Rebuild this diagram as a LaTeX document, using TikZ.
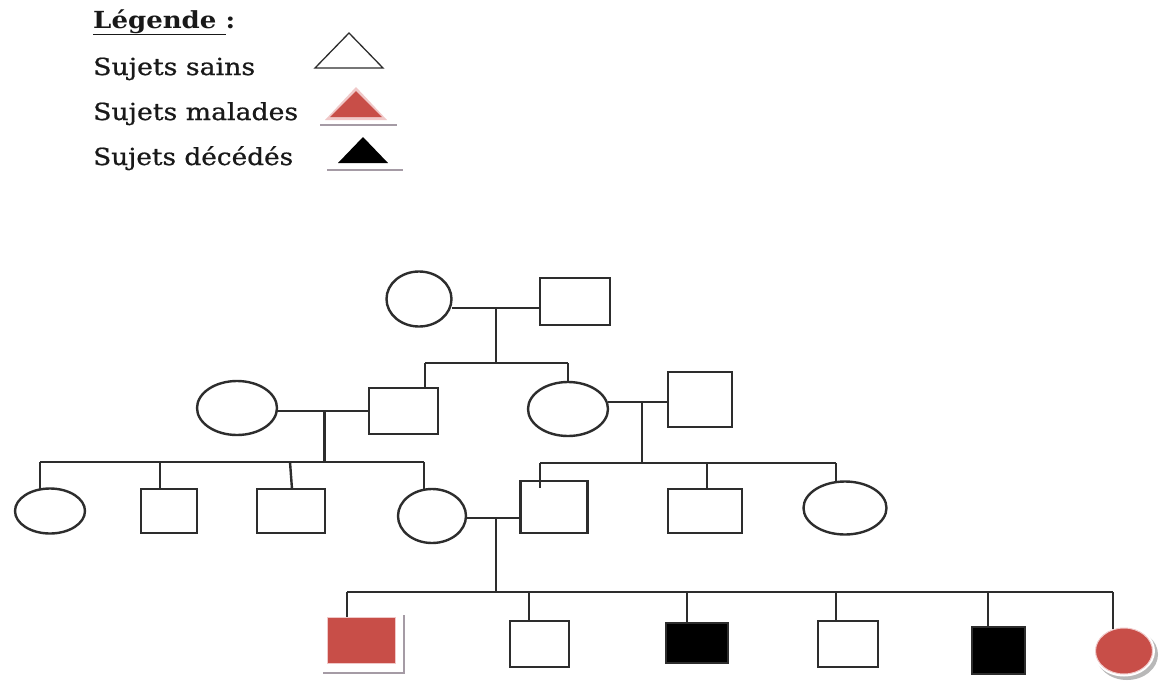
\documentclass[tikz,border=0pt]{standalone}
\usepackage{fontspec}
\usepackage{graphicx}
\setmainfont{DejaVu Serif}
\newfontfamily\legfont{DejaVu Serif}[FakeBold=0.7]
\usetikzlibrary{shapes.geometric}
\definecolor{ln}{RGB}{45,45,45}
\definecolor{sick}{RGB}{200,78,72}
\definecolor{shd}{RGB}{165,155,165}
\definecolor{halo}{RGB}{240,200,200}
\newcommand\wtxt[2]{\resizebox{#1pt}{\height}{#2}}
\begin{document}
\begin{tikzpicture}[x=1pt,y=-1pt,
  lw/.style={line width=2.4pt, draw=ln},
  link/.style={line width=2.4pt, draw=ln},
  fem/.style 2 args={ellipse, lw, inner sep=0pt, outer sep=0pt, minimum width=#1pt, minimum height=#2pt},
  mal/.style 2 args={rectangle, lw, inner sep=0pt, outer sep=0pt, minimum width=#1pt, minimum height=#2pt},
  leg/.style={anchor=base west, inner sep=0pt, text=black!90, font=\fontsize{23.5}{26}\selectfont}]
\useasboundingbox (0,0) rectangle (1163,686);
\fill[white] (0,0) rectangle (1163,686);

% legend
\node[leg] (lg) at (93,28) {\wtxt{142}{\textbf{\underline{Légende\ }:}}};
\node[leg] (l1) at (93,75) {\wtxt{162}{\legfont Sujets sains}};
\node[leg] (l2) at (93,120) {\wtxt{205}{\legfont Sujets malades}};
\node[leg] (l3) at (93,165) {\wtxt{200}{\legfont Sujets décédés}};
\draw[ln, line width=1.3pt, fill=white] (315,68) -- (349,33) -- (383,68) -- cycle;
\fill[halo] (325,120) -- (356,87) -- (387,120) -- cycle;
\fill[sick] (330,117) -- (356,91) -- (382,117) -- cycle;
\draw[shd, line width=1.8pt] (320,125) -- (397,125);
\fill[black] (338,163) -- (363,137) -- (388,163) -- cycle;
\draw[shd, line width=1.8pt] (327,170) -- (403,170);

% generation I
\node[fem={65}{55}] (c1) at (419,299) {};
\node[mal={70}{47}] (s1) at (575,301.5) {};
% generation II
\node[fem={80}{54}] (c2) at (237,408) {};
\node[mal={69}{46}] (s2) at (403.5,411) {};
\node[fem={80}{54}] (c3) at (568,409) {};
\node[mal={64}{55}] (s3) at (700,399.5) {};
% generation III
\node[fem={70}{45}] (c4) at (50,511) {};
\node[mal={56}{44}] (s4) at (169,511) {};
\node[mal={68}{44}] (s5) at (291,511) {};
\node[fem={68}{54}] (c5) at (432,516) {};
\node[mal={67}{52}] (s6) at (554,507) {};
\node[mal={74}{44}] (s7) at (705,511) {};
\node[fem={83}{53}] (c6) at (845,508) {};
% generation IV
\draw[shd, line width=1.8pt] (323,673) -- (404,673) -- (404,615);
\node[mal={68}{46}, draw=halo, line width=1pt, fill=sick] (s8) at (361,640) {};
\node[mal={59}{46}] (s9) at (539.5,644) {};
\node[mal={62}{40}, fill=black] (s10) at (697,643) {};
\node[mal={60}{46}] (s11) at (848,644) {};
\node[mal={53}{47}, fill=black] (s12) at (998.5,650.5) {};
\fill[black!28] (1127,654.5) ellipse (31 and 25.5);
\fill[white] (1124,651) ellipse (31 and 25.5);
\node[fem={57}{46}, draw=halo, line width=1pt, fill=sick] (c7) at (1124,651) {};

% junction coordinates
\coordinate (m1) at (496,308);
\coordinate (k1) at (496,363);
\coordinate (k1l) at (425,363);
\coordinate (k1r) at (568,363);
\coordinate (m2) at (324.5,411);
\coordinate (k2) at (324.5,462);
\coordinate (k2a) at (40,462);
\coordinate (k2b) at (160,462);
\coordinate (k2c) at (290,462);
\coordinate (k2d) at (424,462);
\coordinate (m3) at (642,402);
\coordinate (k3) at (642,463);
\coordinate (k3a) at (540,463);
\coordinate (k3a2) at (540,488);
\coordinate (k3b) at (707,463);
\coordinate (k3c) at (836,463);
\coordinate (m4) at (496,518);
\coordinate (k4) at (496,592);
\coordinate (k4a) at (347,592);
\coordinate (k4b) at (529,592);
\coordinate (k4c) at (687,592);
\coordinate (k4d) at (836,592);
\coordinate (k4e) at (988,592);
\coordinate (k4f) at (1113,592);

% generation I links
\draw[link] (c1.east |- m1) -- (s1.west |- m1);
\draw[link] (m1) -- (k1);
\draw[link] (k1l) -- (k1r);
\draw[link] (k1l) -- (k1l |- s2.north);
\draw[link] (k1r) -- (c3.north);
% generation II links
\draw[link] (c2.east |- m2) -- (s2.west |- m2);
\draw[link] (m2) -- (k2);
\draw[link] (k2a) -- (k2d);
\draw[link] (k2a) -- (40,489.5);
\draw[link] (k2b) -- (k2b |- s4.north);
\draw[link] (k2c) -- (292,489);
\draw[link] (k2d) -- (424,490);
\draw[link] (c3.east |- m3) -- (s3.west |- m3);
\draw[link] (m3) -- (k3);
\draw[link] (k3a) -- (k3c);
\draw[link] (k3a) -- (k3a2);
\draw[link] (k3b) -- (k3b |- s7.north);
\draw[link] (k3c) -- (836,482.5);
% generation III links
\draw[link] (c5.east |- m4) -- (s6.west |- m4);
\draw[link] (m4) -- (k4);
\draw[link] (k4a) -- (k4f);
\draw[link] (k4a) -- (k4a |- s8.north);
\draw[link] (k4b) -- (k4b |- s9.north);
\draw[link] (k4c) -- (k4c |- s10.north);
\draw[link] (k4d) -- (k4d |- s11.north);
\draw[link] (k4e) -- (k4e |- s12.north);
\draw[link] (k4f) -- (1113,629);
\end{tikzpicture}
\end{document}
